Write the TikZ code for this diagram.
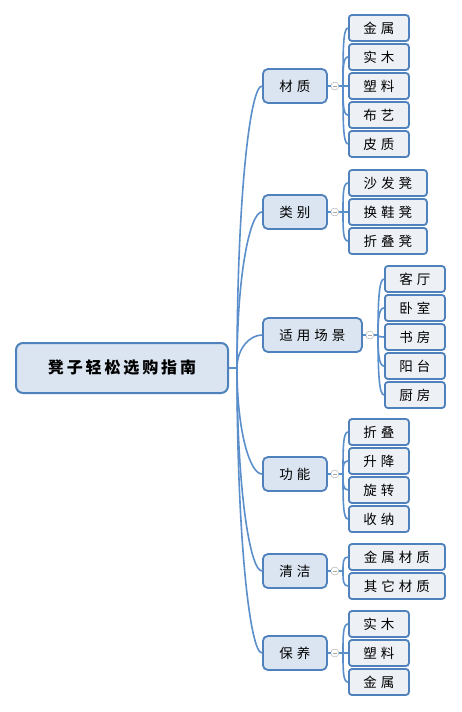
\documentclass[tikz,border=0pt]{standalone}
\usepackage{fontspec}
\newfontfamily\cjk[LetterSpace=30]{Noto Sans CJK SC}
\newfontfamily\cjkroot[LetterSpace=18]{Noto Sans CJK SC}
\usetikzlibrary{calc}
\definecolor{mmblue}{HTML}{4F81BD}
\definecolor{linkblue}{HTML}{5B8FCB}
\definecolor{topicfill}{HTML}{DBE5F1}
\definecolor{leaffill}{HTML}{EDF0F5}
\definecolor{knobgray}{HTML}{A6A6A6}

\begin{document}
\begin{tikzpicture}[x=1pt,y=-1pt,
  rootbox/.style={draw=mmblue, line width=2pt, fill=topicfill, rounded corners=7pt,
    minimum width=212pt, minimum height=50pt, inner sep=0pt,
    font=\cjkroot\fontsize{16}{19}\selectfont\bfseries},
  topicbox/.style={draw=mmblue, line width=1.8pt, fill=topicfill, rounded corners=5pt,
    minimum width=#1, minimum height=34pt, inner sep=0pt, anchor=west,
    font=\cjk\fontsize{13.5}{16}\selectfont},
  leafbox/.style={draw=mmblue, line width=1.8pt, fill=leaffill, rounded corners=3pt,
    minimum width=#1, minimum height=26pt, inner sep=0pt, anchor=west,
    font=\cjk\fontsize{13.5}{16}\selectfont},
  link/.style={linkblue, line width=1.6pt},
  fork/.style={to path={.. controls ($(\tikztostart)!.6!(\tikztostart|-\tikztotarget)$)
    and ($(\tikztotarget)+(-#1,0)$) .. (\tikztotarget)}},
  knob/.style={circle, draw=knobgray, fill=white, minimum size=8pt, inner sep=0pt,
    path picture={\draw[knobgray, line width=0.6pt]
      ([xshift=-2pt]path picture bounding box.center) --
      ([xshift=2pt]path picture bounding box.center);}}
]
\useasboundingbox[fill=white] (0,0) rectangle (461,712);

%%% Root
\node[rootbox] (root) at (122,368) {凳子轻松选购指南};
\coordinate (trunk) at (237,368);
\draw[link] (root.east) -- (trunk);

%%% Topics
\node[topicbox=64pt] (caizhi) at (262,86) {材质};
\node[topicbox=64pt] (leibie) at (262,212) {类别};
\node[topicbox=99pt] (changjing) at (262,335) {适用场景};
\node[topicbox=64pt] (gongneng) at (262,474) {功能};
\node[topicbox=64pt] (qingjie) at (262,571) {清洁};
\node[topicbox=64pt] (baoyang) at (262,653) {保养};

\foreach \t in {caizhi,leibie,changjing,gongneng,qingjie,baoyang}
  \draw[link, fork=12] (trunk) to (\t.west);

%%% Knobs and hubs
\foreach \t in {caizhi,leibie,changjing,gongneng,qingjie,baoyang} {
  \node[knob] (\t-k) at ([xshift=7pt]\t.east) {};
  \coordinate (\t-h) at ([xshift=4pt]\t-k.east);
  \draw[link] (\t.east) -- (\t-k.west);
  \draw[link] (\t-k.east) -- (\t-h);
}

%%% Leaves
\foreach \l [count=\i from 0] in {金属,实木,塑料,布艺,皮质}
  \node[leafbox=60pt] (caizhi-\i) at (348,{28+29*\i}) {\l};
\foreach \l [count=\i from 0] in {沙发凳,换鞋凳,折叠凳}
  \node[leafbox=78pt] (leibie-\i) at (348,{183+29*\i}) {\l};
\foreach \l [count=\i from 0] in {客厅,卧室,书房,阳台,厨房}
  \node[leafbox=60pt] (changjing-\i) at (384,{279+29*\i}) {\l};
\foreach \l [count=\i from 0] in {折叠,升降,旋转,收纳}
  \node[leafbox=60pt] (gongneng-\i) at (348,{432+29*\i}) {\l};
\foreach \l [count=\i from 0] in {金属材质,其它材质}
  \node[leafbox=96pt] (qingjie-\i) at (348,{557+29*\i}) {\l};
\foreach \l [count=\i from 0] in {实木,塑料,金属}
  \node[leafbox=60pt] (baoyang-\i) at (348,{624+29*\i}) {\l};

%%% Leaf connectors
\foreach \t/\n in {caizhi/4,leibie/2,changjing/4,gongneng/3,qingjie/1,baoyang/2}
  \foreach \i in {0,...,\n}
    \draw[link, fork=5] (\t-h) to (\t-\i.west);

\end{tikzpicture}
\end{document}
